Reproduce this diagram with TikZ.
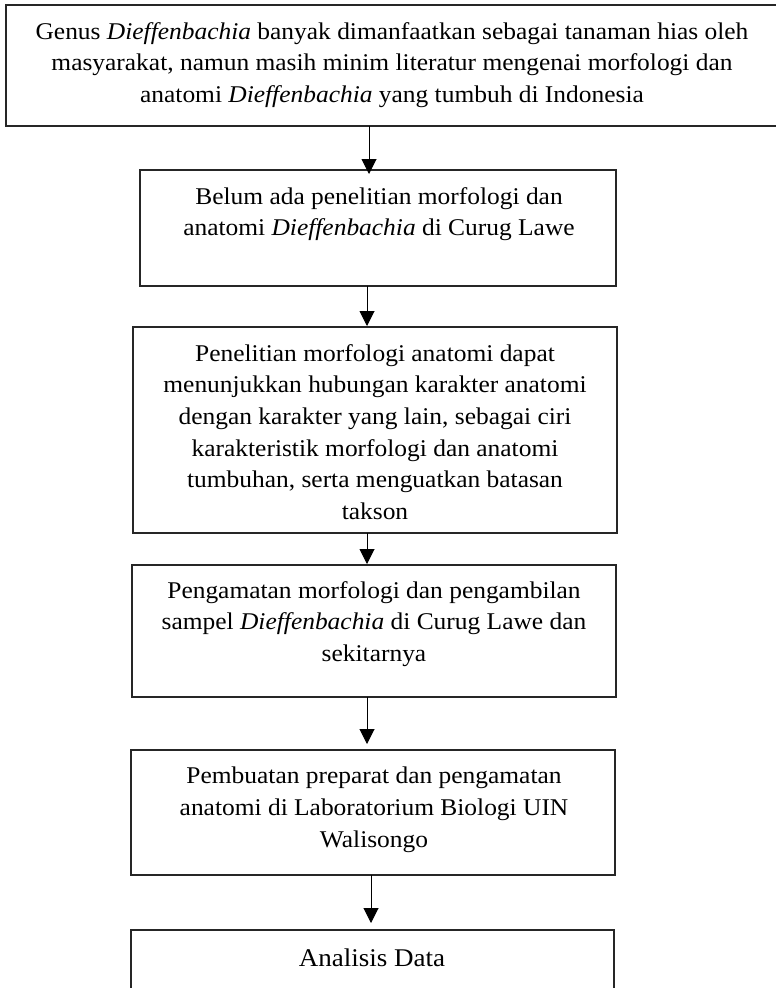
\documentclass[tikz,border=0pt]{standalone}
\usepackage{fontspec}
\setmainfont{Liberation Serif}[FakeStretch=1.06]
\usetikzlibrary{arrows.meta}
\begin{document}
\begin{tikzpicture}[x=1pt,y=-1pt,
  box/.style={draw=black!85, line width=1.1pt, rectangle, inner sep=0pt, outer sep=0pt},
  txt/.style={anchor=north, inner sep=0pt, align=center, font={\fontsize{24}{31.7}\selectfont}},
  arr/.style={draw=black, line width=1pt, -{Triangle[width=15pt,length=15pt]}}]
\useasboundingbox (0,0) rectangle (776,988);
% boxes
\node[box, minimum width=772pt, minimum height=121pt] (b1) at (392,65.5) {};
\node[box, minimum width=476pt, minimum height=116pt] (b2) at (378,228) {};
\node[box, minimum width=484pt, minimum height=206pt] (b3) at (375,430) {};
\node[box, minimum width=484pt, minimum height=132pt] (b4) at (374,631) {};
\node[box, minimum width=484pt, minimum height=125pt] (b5) at (373,812.5) {};
\node[box, minimum width=483pt, minimum height=80pt] (b6) at (372.5,970) {};
% texts
\node[txt] (t1) at (392,22) {Genus \textit{Dieffenbachia} banyak dimanfaatkan sebagai tanaman hias oleh\\
masyarakat, namun masih minim literatur mengenai morfologi dan\\
anatomi \textit{Dieffenbachia} yang tumbuh di Indonesia};
\node[txt] (t2) at (379,187) {Belum ada penelitian morfologi dan\\
anatomi \textit{Dieffenbachia} di Curug Lawe};
\node[txt] (t3) at (375,344) {Penelitian morfologi anatomi dapat\\
menunjukkan hubungan karakter anatomi\\
dengan karakter yang lain, sebagai ciri\\
karakteristik morfologi dan anatomi\\
tumbuhan, serta menguatkan batasan\\
takson};
\node[txt] (t4) at (374,581) {Pengamatan morfologi dan pengambilan\\
sampel \textit{Dieffenbachia} di Curug Lawe dan\\
sekitarnya};
\node[txt] (t5) at (374,767) {Pembuatan preparat dan pengamatan\\
anatomi di Laboratorium Biologi UIN\\
Walisongo};
\node[txt, font={\fontsize{25.5}{31.7}\selectfont}] (t6) at (372,949) {Analisis Data};
% arrow x positions
\coordinate (a1) at (369,0);
\coordinate (a2) at (367,0);
\coordinate (a3) at (367,0);
\coordinate (a4) at (367,0);
\coordinate (a5) at (371,0);
% arrows
\draw[arr, shorten >=-4pt] (b1.south -| a1) -- (b2.north -| a1);
\draw[arr, shorten >=1pt] (b2.south -| a2) -- (b3.north -| a2);
\draw[arr, shorten >=1pt] (b3.south -| a3) -- (b4.north -| a3);
\draw[arr, shorten >=6pt] (b4.south -| a4) -- (b5.north -| a4);
\draw[arr, shorten >=7pt] (b5.south -| a5) -- (b6.north -| a5);
\end{tikzpicture}
\end{document}
